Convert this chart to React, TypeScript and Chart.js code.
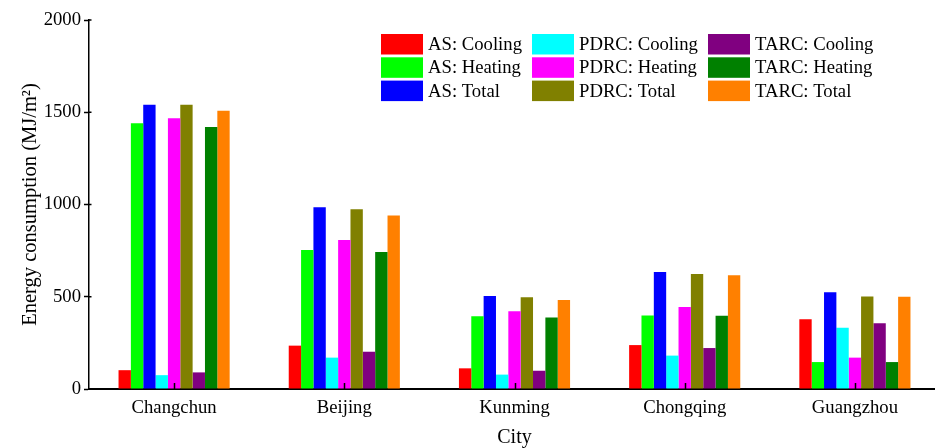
import React, { useEffect, useRef } from "react";
import { Chart, registerables } from "chart.js";

Chart.register(...registerables);

const categories = ["Changchun", "Beijing", "Kunming", "Chongqing", "Guangzhou"];
const asCooling = [102, 235, 112, 238, 378];
const asHeating = [1440, 753, 394, 399, 146];
const asTotal = [1540, 985, 504, 634, 524];
const pdrcCooling = [75, 170, 78, 181, 332];
const pdrcHeating = [1468, 808, 421, 444, 170];
const pdrcTotal = [1540, 974, 497, 623, 502];
const tarcCooling = [90, 202, 99, 222, 356];
const tarcHeating = [1420, 743, 387, 397, 146];
const tarcTotal = [1508, 941, 482, 616, 500];
const yTicks = [0, 500, 1000, 1500, 2000];

const seriesLabels = [
  "AS: Cooling", "AS: Heating", "AS: Total",
  "PDRC: Cooling", "PDRC: Heating", "PDRC: Total",
  "TARC: Cooling", "TARC: Heating", "TARC: Total",
];
const seriesValues = [
  asCooling, asHeating, asTotal,
  pdrcCooling, pdrcHeating, pdrcTotal,
  tarcCooling, tarcHeating, tarcTotal,
];
const seriesColors = [
  "#ff0000", "#00ff00", "#0000ff",
  "#00ffff", "#ff00ff", "#808000",
  "#800080", "#008000", "#ff8000",
];

const FONT = '"Liberation Serif", "Times New Roman", serif';

const customPlugin = {
  id: "customDecor",
  afterDraw(chart: any) {
    const ctx = chart.ctx;
    const area = chart.chartArea;
    const xs = chart.scales.x;
    const ys = chart.scales.y;
    ctx.save();
    ctx.strokeStyle = "#000";
    ctx.lineWidth = 1.5;
    for (let i = 0; i < categories.length; i++) {
      const px = Math.round(xs.getPixelForValue(i)) + 0.5;
      ctx.beginPath();
      ctx.moveTo(px, area.bottom);
      ctx.lineTo(px, area.bottom - 6);
      ctx.stroke();
    }
    for (const v of yTicks) {
      const py = ys.getPixelForValue(v);
      ctx.beginPath();
      ctx.moveTo(area.left, py);
      ctx.lineTo(area.left + 2.5, py);
      ctx.stroke();
    }
    const colX = [381, 532, 708];
    const rowY = [34, 57.3, 80.6];
    const bw = 42;
    const bh = 20.5;
    ctx.font = "18.7px " + FONT;
    ctx.textBaseline = "middle";
    ctx.textAlign = "left";
    for (let i = 0; i < seriesLabels.length; i++) {
      const c = Math.floor(i / 3);
      const r = i % 3;
      const x = colX[c];
      const y = rowY[r];
      ctx.fillStyle = seriesColors[i];
      ctx.fillRect(x, y, bw, bh);
      ctx.fillStyle = "#000";
      ctx.fillText(seriesLabels[i], x + bw + 5, y + bh / 2 + 1);
    }
    ctx.restore();
  },
};

export default function App() {
  const ref = useRef<HTMLCanvasElement | null>(null);
  useEffect(() => {
    if (!ref.current) return;
    const chart = new Chart(ref.current, {
      type: "bar",
      data: {
        labels: categories,
        datasets: seriesLabels.map((label, i) => ({
          label,
          data: seriesValues[i],
          backgroundColor: seriesColors[i],
          borderWidth: 0,
          barPercentage: 1,
          categoryPercentage: 0.653,
        })),
      },
      options: {
        responsive: false,
        animation: false,
        layout: { padding: { top: 20, right: 0, left: 0, bottom: 0 } },
        plugins: {
          legend: { display: false },
          tooltip: { enabled: false },
        },
        scales: {
          x: {
            grid: { display: true, drawOnChartArea: false, drawTicks: false },
            border: { display: true, color: "#000", width: 2 },
            ticks: {
              color: "#000",
              font: { family: FONT, size: 18.7 },
              padding: 8,
            },
            title: {
              display: true,
              text: "City",
              color: "#000",
              font: { family: FONT, size: 20 },
              padding: { top: 0, bottom: -2 },
            },
            afterFit: (s: any) => {
              s.height = 59;
            },
          },
          y: {
            min: 0,
            max: 2000,
            afterBuildTicks: (s: any) => {
              s.ticks = yTicks.map((v) => ({ value: v }));
            },
            grid: { display: true, drawOnChartArea: false, drawTicks: true, tickLength: 5, color: "#000", tickWidth: 1.5 },
            border: { display: true, color: "#000", width: 1.5 },
            ticks: {
              color: "#000",
              font: { family: FONT, size: 18.7 },
              padding: 3,
              callback: (v: any) => String(v),
            },
            title: {
              display: true,
              text: "Energy consumption (MJ/m\u00B2)",
              color: "#000",
              font: { family: FONT, size: 20.5 },
              padding: { top: 18, bottom: 0 },
            },
            afterFit: (s: any) => {
              s.width = 89;
            },
          },
        },
      },
      plugins: [customPlugin],
    });
    return () => chart.destroy();
  }, []);
  return (
    <div style={{ position: "fixed", left: 0, top: 0, width: 935, height: 448, overflow: "hidden", background: "#fff" }}>
      <canvas ref={ref} width={940} height={448} style={{ display: "block" }} />
    </div>
  );
}
